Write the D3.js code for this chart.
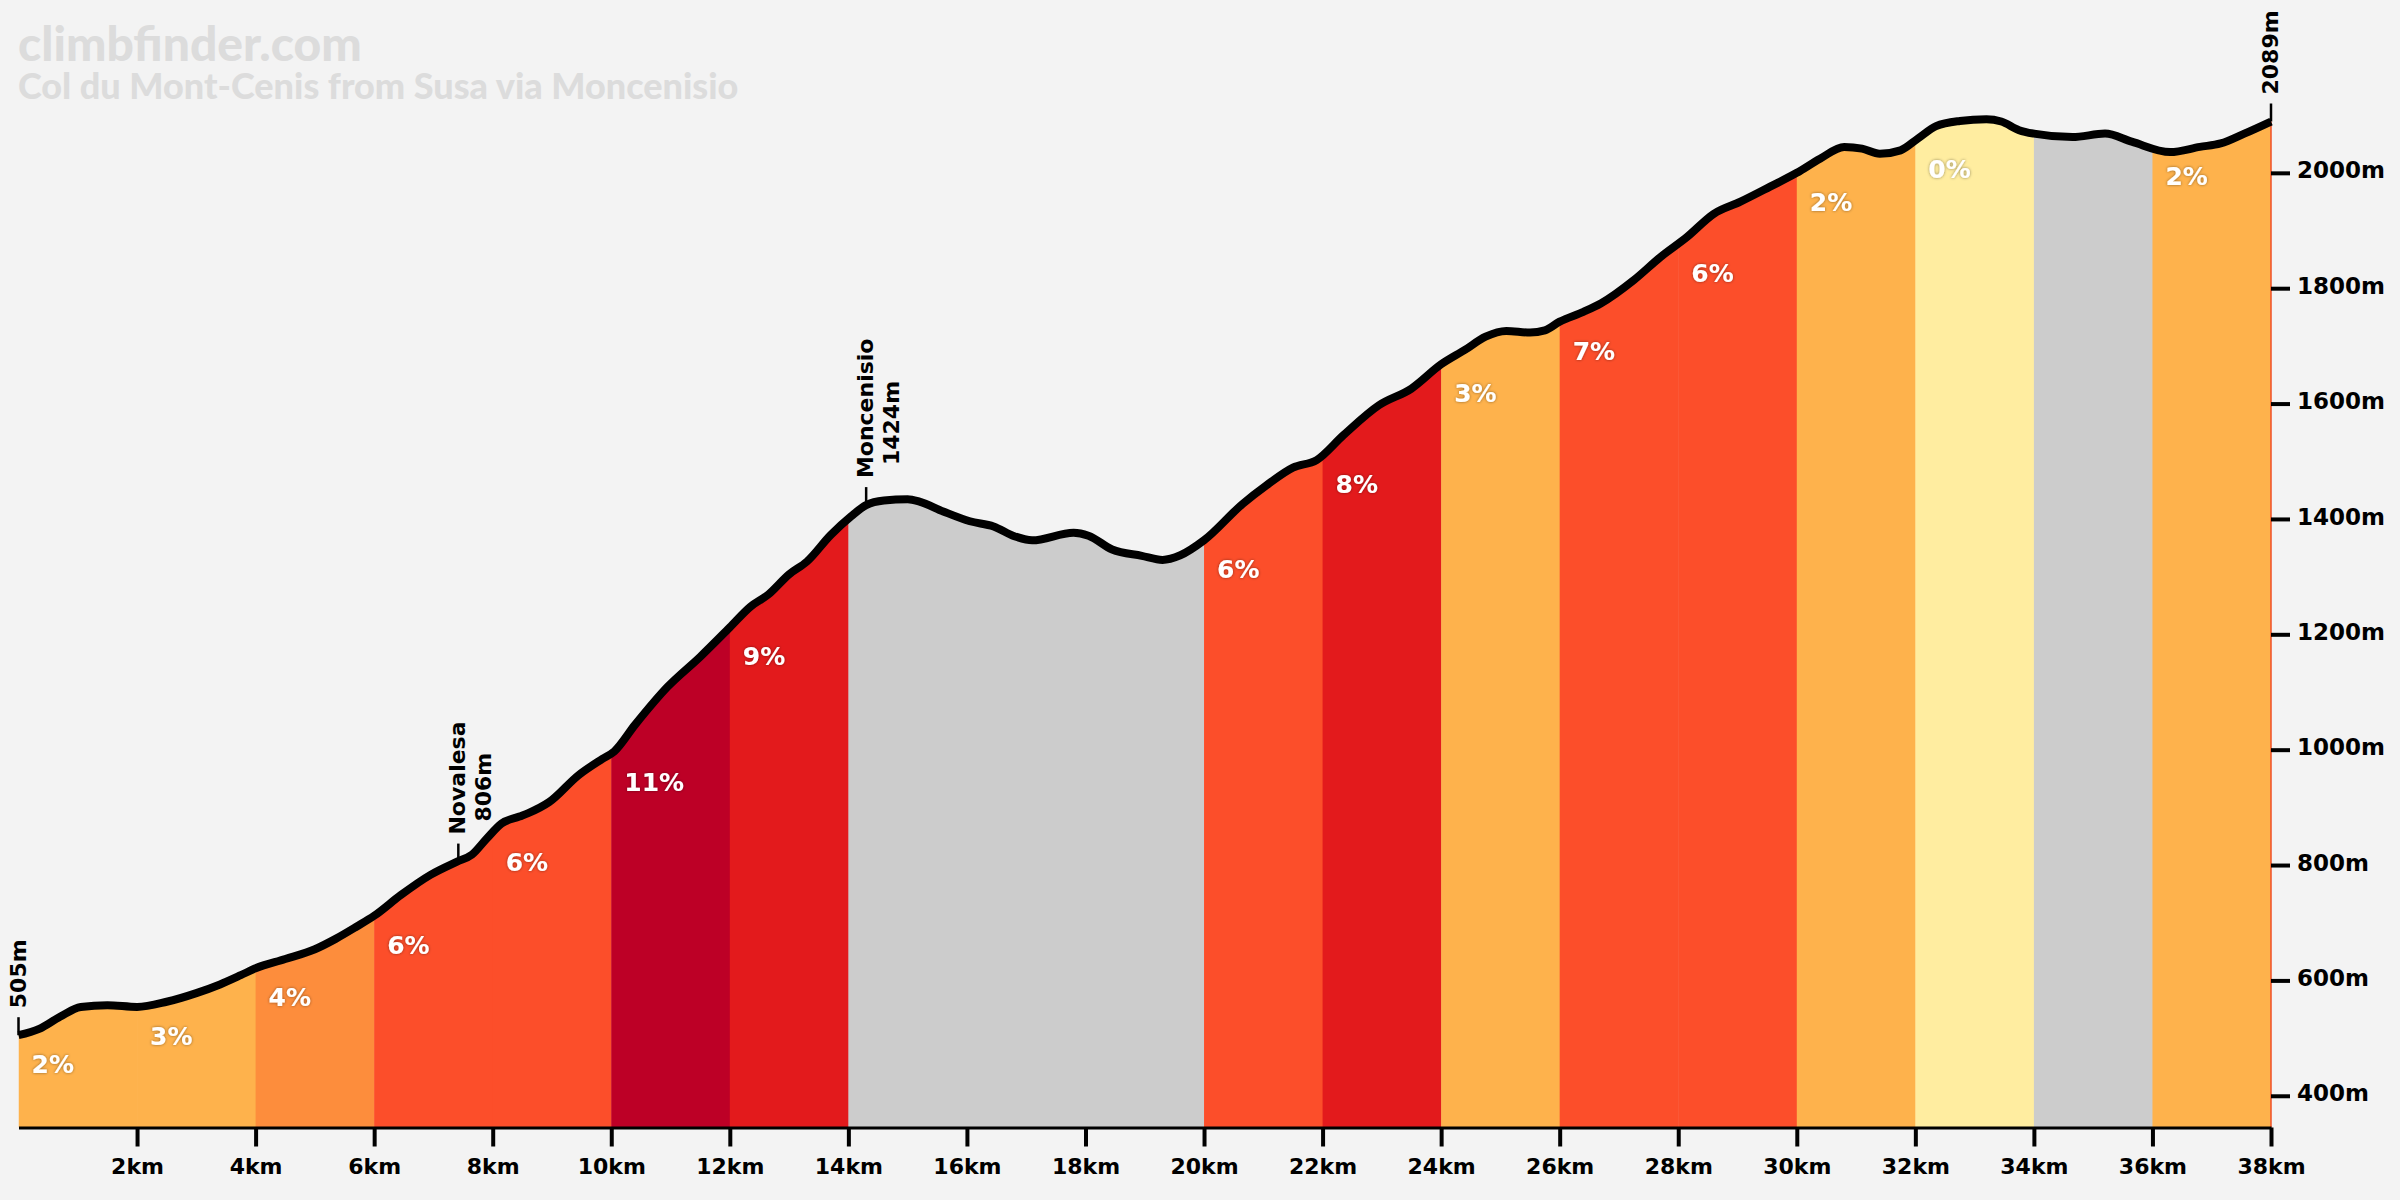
<!DOCTYPE html>
<html>
<head>
<meta charset="utf-8">
<script src="https://cdn.jsdelivr.net/npm/d3@7/dist/d3.min.js"></script>
<style>
  body { margin: 0; background: #f3f3f3; }
  svg { display: block; }
</style>
</head>
<body>
<script>
// Elevation profile (km along the road, metres)
const kms = [0, 0.35, 0.7, 1.05, 1.5, 2.0, 2.5, 3.0, 3.4, 3.75, 4.0, 4.5, 5.0, 5.35, 5.7, 6.0, 6.45, 6.95, 7.4, 7.65,
  7.9, 8.15, 8.45, 8.6, 8.95, 9.45, 9.85, 10.05, 10.4, 10.95, 11.5, 12.0, 12.35, 12.65, 13.0, 13.3, 13.7, 14.05, 14.3,
  14.6, 15.0, 15.2, 15.6, 16.05, 16.45, 16.8, 17.1, 17.8, 18.05, 18.45, 18.95, 19.3, 19.6, 20.0, 20.65, 21.05, 21.5,
  21.9, 22.35, 22.95, 23.5, 24.0, 24.4, 24.75, 25.1, 25.5, 25.75, 26.0, 26.4, 26.7, 27.25, 27.7, 28.15, 28.6, 29.05,
  29.55, 30.0, 30.4, 30.8, 31.1, 31.4, 31.75, 32.05, 32.35, 32.75, 33.2, 33.45, 33.75, 34.0, 34.65, 35.2, 35.65, 36.3,
  36.8, 37.15, 37.55, 38.0];
const elevs = [505, 516, 537, 554, 557, 554, 563, 578, 593, 609, 621, 637, 654, 672, 693, 712, 748, 783, 806, 818,
  846, 872, 884, 890, 909, 956, 984, 997, 1043, 1109, 1161, 1212, 1248, 1269, 1304, 1326, 1372, 1405, 1424,
  1432, 1434, 1430, 1413, 1396, 1387, 1370, 1363, 1376, 1371, 1347, 1336, 1329, 1337, 1363, 1426, 1458, 1489,
  1502, 1545, 1597, 1626, 1668, 1693, 1716, 1726, 1723, 1727, 1742, 1759, 1774, 1814, 1854, 1889, 1929, 1950,
  1976, 2000, 2025, 2045, 2042, 2033, 2039, 2060, 2081, 2090, 2093, 2089, 2074, 2068, 2062, 2068, 2054, 2036,
  2045, 2051, 2068, 2089];

// 2 km segments and their average gradient (null = descending / flat, drawn grey)
const segStarts = [0, 2, 4, 6, 8, 10, 12, 14, 16, 18, 20, 22, 24, 26, 28, 30, 32, 34, 36];
const segGrades = [2, 3, 4, 6, 6, 11, 9, null, null, null, 6, 8, 3, 7, 6, 2, 0, null, 2];

// named points on the climb
const wpKm = [0, 7.42, 14.3, 38];
const wpName = ["", "Novalesa", "Moncenisio", ""];
const wpElev = [505, 806, 1424, 2089];

const xTicks = [2, 4, 6, 8, 10, 12, 14, 16, 18, 20, 22, 24, 26, 28, 30, 32, 34, 36, 38];
const yTicks = [400, 600, 800, 1000, 1200, 1400, 1600, 1800, 2000];

const W = 2400, H = 1200;
const FONT = "'DejaVu Sans', sans-serif";

const svg = d3.select("body").append("svg").attr("width", W).attr("height", H);
svg.append("rect").attr("width", W).attr("height", H).attr("fill", "#f3f3f3");

const x = d3.scaleLinear().domain([0, 38]).range([18.5, 2271]);
const y = d3.scaleLinear().domain([345, 2089]).range([1127.5, 121.5]);

const gradeColor = d3.scaleThreshold()
  .domain([2, 4, 5, 8, 10])
  .range(["#ffeda0", "#feb24c", "#fd8d3c", "#fc4e2a", "#e31a1c", "#bd0026"]);
const colorOf = g => g === null ? "#cccccc" : gradeColor(g);

const profile = kms.map((k, i) => ({km: k, elev: elevs[i]}));
const elevAt = d3.scaleLinear().domain(kms).range(elevs);

const area = d3.area()
  .x(d => x(d.km))
  .y0(y(345))
  .y1(d => y(d.elev))
  .curve(d3.curveMonotoneX);
const line = d3.line()
  .x(d => x(d.km))
  .y(d => y(d.elev))
  .curve(d3.curveMonotoneX);

const defs = svg.append("defs");
defs.append("clipPath").attr("id", "profile-clip")
  .append("path").attr("d", area(profile));
defs.append("filter").attr("id", "glow")
  .attr("x", "-30%").attr("y", "-30%").attr("width", "160%").attr("height", "160%")
  .append("feDropShadow")
  .attr("dx", 0).attr("dy", 0).attr("stdDeviation", 1.6)
  .attr("flood-color", "#000").attr("flood-opacity", 0.45);

// Title
svg.append("text")
  .attr("x", 18).attr("y", 61)
  .attr("font-family", "Lato, sans-serif").attr("font-weight", 900).attr("font-size", 48)
  .attr("fill", "#dcdcdc")
  .text("climbfinder.com");
svg.append("text")
  .attr("x", 18).attr("y", 99)
  .attr("font-family", "Lato, sans-serif").attr("font-weight", 900).attr("font-size", 36)
  .attr("fill", "#dcdcdc")
  .text("Col du Mont-Cenis from Susa via Moncenisio");

// Coloured gradient segments, clipped to the profile
const segEnd = i => i + 1 < segStarts.length ? segStarts[i + 1] : x.domain()[1];
svg.append("g")
  .attr("clip-path", "url(#profile-clip)")
  .selectAll("rect")
  .data(segStarts)
  .join("rect")
  .attr("x", d => x(d))
  .attr("y", 0)
  .attr("width", (d, i) => x(segEnd(i)) - x(d) + 0.5)
  .attr("height", y(345))
  .attr("fill", (d, i) => colorOf(segGrades[i]));

// thin right edge
svg.append("line")
  .attr("x1", x(38)).attr("x2", x(38))
  .attr("y1", y(2089)).attr("y2", y(345))
  .attr("stroke", "#ef4f26").attr("stroke-width", 1.5);

// Gradient labels
svg.append("g")
  .selectAll("text")
  .data(segStarts.map((s, i) => ({start: s, grade: segGrades[i]})).filter(d => d.grade !== null))
  .join("text")
  .attr("x", d => x(d.start) + 13)
  .attr("y", d => y(elevAt(d.start)) + 29)
  .attr("dy", "0.36em")
  .attr("font-family", FONT).attr("font-weight", "bold").attr("font-size", 25)
  .attr("fill", "#fff")
  .attr("filter", "url(#glow)")
  .text(d => d.grade + "%");

// Waypoint markers
const wp = svg.append("g");
wpKm.forEach((k, i) => {
  const px = x(k), py = y(wpElev[i]);
  wp.append("line")
    .attr("x1", px).attr("x2", px)
    .attr("y1", py - 18).attr("y2", py)
    .attr("stroke", "#000").attr("stroke-width", 2.5);
  const lines = wpName[i] ? [wpName[i], wpElev[i] + "m"] : [wpElev[i] + "m"];
  lines.forEach((t, j) => {
    wp.append("text")
      .attr("transform", `translate(${px + 7 + j * 26},${py - 27 - j * 13}) rotate(-90)`)
      .attr("font-family", FONT).attr("font-weight", "bold").attr("font-size", 22)
      .attr("fill", "#000")
      .text(t);
  });
});

// Profile line
svg.append("path")
  .datum(profile)
  .attr("d", line)
  .attr("fill", "none")
  .attr("stroke", "#000")
  .attr("stroke-width", 8)
  .attr("stroke-linejoin", "round");

// X axis
const xAxis = svg.append("g")
  .attr("transform", `translate(0,${y(345)})`)
  .call(d3.axisBottom(x).tickValues(xTicks).tickSize(19).tickSizeOuter(0).tickPadding(12)
    .tickFormat(d => d + "km"));
xAxis.select(".domain").attr("stroke-width", 3);
xAxis.selectAll(".tick line").attr("stroke-width", 4);
xAxis.selectAll(".tick text")
  .attr("font-family", FONT).attr("font-weight", "bold").attr("font-size", 22).attr("fill", "#000");

// Y axis (right)
const yAxis = svg.append("g")
  .attr("transform", `translate(${x(38)},0)`)
  .call(d3.axisRight(y).tickValues(yTicks).tickSize(19).tickPadding(7)
    .tickFormat(d => d + "m"));
yAxis.select(".domain").remove();
yAxis.selectAll(".tick line").attr("stroke-width", 4);
yAxis.selectAll(".tick text")
  .attr("dy", "0.22em")
  .attr("font-family", FONT).attr("font-weight", "bold").attr("font-size", 23).attr("fill", "#000");
</script>
</body>
</html>
